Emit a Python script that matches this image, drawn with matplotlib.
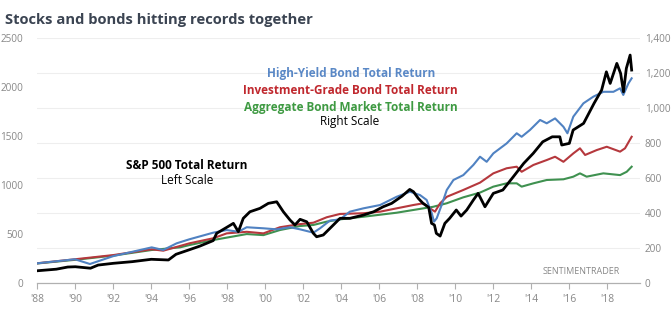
from matplotlib import pyplot as plt

plt.rcParams['font.family'] = ['Open Sans', 'DejaVu Sans']

# S&P 500 total return (left scale)
spx_t = [1988.0, 1989.0, 1989.6, 1990.0, 1990.8, 1991.2, 1992.0, 1993.0, 1994.0, 1994.9,
         1995.3, 1995.95, 1996.56, 1997.26, 1997.44, 1997.97, 1998.32, 1998.58, 1998.84,
         1999.19, 1999.72, 2000.16, 2000.6, 2000.95, 2001.3, 2001.56, 2001.83, 2002.18,
         2002.53, 2002.7, 2003.05, 2003.58, 2003.93, 2004.45, 2005.16, 2005.7, 2006.2,
         2006.65, 2007.2, 2007.6, 2007.8, 2008.05, 2008.3, 2008.6, 2008.75, 2008.9, 2009.0,
         2009.2, 2009.45, 2009.7, 2010.05, 2010.3, 2010.6, 2010.95, 2011.2, 2011.56, 2012.0,
         2012.5, 2013.05, 2013.6, 2014.1, 2014.6, 2015.1, 2015.5, 2015.6, 2016.0, 2016.2,
         2016.75, 2017.3, 2017.7, 2017.95, 2018.15, 2018.5, 2018.7, 2018.85, 2019.0, 2019.2,
         2019.28]
spx_v = [122, 138, 160, 163, 148, 180, 198, 215, 239, 232,
         290, 333, 374, 430, 504, 565, 606, 520, 657,
         724, 759, 810, 826, 724, 640, 589, 647, 622,
         504, 469, 487, 589, 657, 657, 690, 724, 775,
         810, 884, 952, 928, 861, 810, 769, 606, 589, 504,
         476, 606, 657, 742, 680, 742, 844, 912, 775, 912,
         946, 1081, 1218, 1320, 1438, 1489, 1489, 1405, 1422, 1558,
         1626, 1830, 1966, 2152, 2034, 2238, 2136, 1948, 2187, 2323,
         2170]

# high-yield bond total return (right scale)
hy_t = [1988.0, 1989.98, 1990.77, 1992.0, 1994.02, 1994.63, 1995.33, 1996.0, 1997.26,
        1997.97, 1998.58, 1999.02, 1999.9, 2000.6, 2001.3, 2001.83, 2002.53, 2002.88,
        2003.4, 2003.93, 2004.45, 2005.16, 2006.04, 2006.91, 2007.61, 2008.14, 2008.49,
        2008.76, 2008.88, 2009.02, 2009.28, 2009.55, 2009.9, 2010.42, 2010.95, 2011.3,
        2011.65, 2012.0, 2012.7, 2013.23, 2013.49, 2013.93, 2014.46, 2014.81, 2015.25,
        2015.69, 2015.9, 2016.21, 2016.74, 2017.26, 2017.79, 2018.32, 2018.67, 2018.84,
        2019.11, 2019.28]
hy_v = [111, 134, 107, 152, 202, 187, 225, 248, 286,
        301, 291, 317, 311, 305, 317, 305, 286, 311,
        355, 362, 406, 425, 444, 491, 520, 501, 473,
        397, 349, 368, 444, 530, 587, 615, 673, 720,
        691, 739, 796, 854, 834, 873, 930, 911, 939,
        891, 854, 949, 1025, 1063, 1091, 1091, 1111, 1073,
        1139, 1168]

# investment-grade bond total return (right scale)
ig_t = [1988.0, 1989.98, 1992.0, 1994.02, 1994.63, 1995.51, 1996.0, 1997.26, 1997.97,
        1999.02, 1999.9, 2000.77, 2001.83, 2002.53, 2003.23, 2003.93, 2005.16, 2006.04,
        2006.91, 2007.79, 2008.32, 2008.67, 2008.93, 2009.2, 2009.55, 2010.42, 2011.3,
        2012.0, 2012.7, 2013.23, 2013.49, 2014.11, 2014.81, 2015.25, 2015.69, 2016.21,
        2016.56, 2016.83, 2017.44, 2017.97, 2018.67, 2018.93, 2019.28]
ig_v = [111, 134, 158, 191, 183, 210, 225, 254, 282,
        291, 282, 317, 335, 343, 374, 393, 397, 406,
        425, 444, 454, 425, 406, 454, 491, 530, 572,
        625, 654, 663, 634, 673, 701, 720, 691, 739,
        768, 730, 758, 777, 749, 768, 834]

# aggregate bond market total return (right scale)
agg_t = [1988.0, 1990.0, 1992.0, 1994.02, 1995.51, 1996.0, 1997.26, 1999.02, 1999.9,
         2000.77, 2001.83, 2002.53, 2003.23, 2003.93, 2005.16, 2006.91, 2008.32, 2008.84,
         2009.55, 2010.42, 2011.3, 2012.0, 2012.7, 2013.23, 2013.49, 2014.11, 2014.81,
         2015.69, 2016.21, 2016.56, 2016.91, 2017.79, 2018.67, 2019.02, 2019.28]
agg_v = [110, 131, 155, 187, 202, 215, 244, 278, 272,
         301, 324, 330, 349, 362, 377, 400, 425, 434,
         454, 488, 515, 549, 568, 568, 549, 568, 587,
         591, 606, 625, 606, 625, 615, 634, 663]

years = list(range(1988, 2019, 2))
year_labels = ["'" + str(y)[2:] for y in years]

fig = plt.figure(figsize=(6.72, 3.33), dpi=100)
ax = fig.add_axes([0.0555, 0.151, 0.8969, 0.7357])
ax2 = ax.twinx()

ax2.plot(agg_t, agg_v, color='#3f9150', lw=1.5)
ax2.plot(ig_t, ig_v, color='#b5383d', lw=1.5)
ax2.plot(hy_t, hy_v, color='#5082c2', lw=1.5)
ax.plot(spx_t, spx_v, color='black', lw=2)

# keep the S&P line on top of the bond lines
ax.set_zorder(ax2.get_zorder() + 1)
ax.patch.set_visible(False)

ax.set_xlim(1988, 2019.72)
ax.set_ylim(0, 2500)
ax2.set_ylim(0, 1400)
ax.set_yticks(range(0, 2501, 500))
ax2.set_yticks(range(0, 1401, 200))
ax2.set_yticklabels([f'{v:,}' for v in range(0, 1401, 200)])
ax.set_xticks(years)
ax.set_xticklabels(year_labels)

ax2.grid(axis='y', color='#eeeeee', lw=0.8)
ax2.set_axisbelow(True)
for a in (ax, ax2):
	for s in ('top', 'left', 'right'):
		a.spines[s].set_visible(False)
	a.spines['bottom'].set_color('#b0b0b0')
	a.tick_params(axis='y', length=0, labelsize=7.2, labelcolor='#888888')
ax.tick_params(axis='y', pad=10)
ax2.tick_params(axis='y', pad=3.5)
ax.tick_params(axis='x', length=4, color='#b0b0b0', labelsize=7.5, labelcolor='#888888', pad=4)

fig.text(0.008, 1 - 20 / 333, 'Stocks and bonds hitting records together', fontsize=10.6,
         fontweight='bold', color='#3b4452', va='center')

def label(x, y, s, color, bold=True):
	fig.text(x / 672, 1 - y / 333, s, color=color, fontsize=8.5, ha='center', va='center',
	         fontweight='bold' if bold else 'normal')

label(351, 73, 'High-Yield Bond Total Return', '#5a88c6')
label(350, 90, 'Investment-Grade Bond Total Return', '#c0282e')
label(351, 107, 'Aggregate Bond Market Total Return', '#3e9a42')
label(350, 121, 'Right Scale', 'black', bold=False)
label(187, 165, 'S&P 500 Total Return', 'black')
label(187, 180, 'Left Scale', 'black', bold=False)

fig.text(581 / 672, 1 - 271 / 333, 'SENTIMENTRADER', fontsize=6.5, color='#888888',
         ha='center', va='center')

plt.savefig('out.png', dpi=100)
